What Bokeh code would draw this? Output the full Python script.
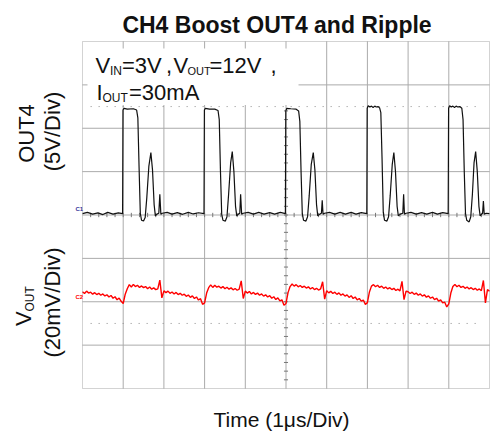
import numpy as np
from bokeh.plotting import figure
from bokeh.models import Label, BoxAnnotation, Range1d
from bokeh.embed import file_html
from bokeh.resources import INLINE

# ---------------- data ----------------
x_divisions = [1, 2, 3, 4, 5, 6, 7, 8, 9]          # us grid lines
y_divisions = [-3, -2, -1, 0, 1, 2, 3]              # div grid lines
ch1_scale_v = 5.0      # V / div
ch2_scale_mv = 20.0    # mV / div
ch1_ref_div = 0.0
ch2_ref_div = -2.0
cursor_divs = [2.5, -2.5]

out4_t = [0.00, 0.12, 0.25, 0.38, 0.50, 0.62, 0.75, 0.88, 0.985,
          0.995, 1.02, 1.10, 1.25, 1.33, 1.36, 1.39, 1.42, 1.45, 1.50, 1.54, 1.58, 1.63, 1.68, 1.72, 1.76, 1.79, 1.83, 1.875, 1.90, 1.925, 1.96,
          2.08, 2.20, 2.33, 2.46, 2.60, 2.72, 2.85, 2.985,
          2.995, 3.02, 3.12, 3.25, 3.33, 3.36, 3.39, 3.42, 3.45, 3.51, 3.55, 3.59, 3.64, 3.68, 3.72, 3.76, 3.79, 3.83, 3.865, 3.885, 3.91, 3.95,
          4.07, 4.20, 4.33, 4.46, 4.60, 4.72, 4.86, 4.985,
          4.995, 5.02, 5.12, 5.25, 5.31, 5.34, 5.37, 5.40, 5.43, 5.49, 5.53, 5.57, 5.62, 5.67, 5.71, 5.75, 5.78, 5.83, 5.87, 5.89, 5.91, 5.95,
          6.07, 6.20, 6.33, 6.46, 6.60, 6.72, 6.85, 6.985,
          6.995, 7.02, 7.06, 7.10, 7.14, 7.18, 7.22, 7.26, 7.30, 7.33, 7.36, 7.39, 7.42, 7.48, 7.52, 7.56, 7.61, 7.65, 7.69, 7.73, 7.76, 7.81, 7.87, 7.89, 7.91, 7.95,
          8.07, 8.20, 8.33, 8.46, 8.60, 8.72, 8.85, 8.985,
          8.995, 9.02, 9.06, 9.10, 9.14, 9.18, 9.22, 9.27, 9.32, 9.35, 9.38, 9.41, 9.44, 9.50, 9.54, 9.58, 9.62, 9.66, 9.70, 9.74, 9.77, 9.81, 9.83, 9.85, 9.87, 9.92, 10.0]
out4_v = [0.15, 0.30, 0.10, 0.25, 0.05, 0.30, 0.10, 0.25, 0.15,
          12.1, 12.3, 12.2, 12.25, 12.1, 11.2, 5.5, 0.2, -0.6, -0.7, -0.3, 2.0, 5.6, 7.2, 5.2, 1.2, -0.1, 0.1, 0.2, 2.4, 0.1, 0.2,
          0.30, 0.10, 0.28, 0.08, 0.30, 0.12, 0.26, 0.15,
          12.1, 12.3, 12.2, 12.2, 12.05, 11.0, 5.0, 0.1, -0.6, -0.7, -0.2, 2.4, 6.0, 7.3, 5.0, 1.0, -0.1, 0.1, 0.2, 2.4, 0.1, 0.2,
          0.30, 0.10, 0.30, 0.10, 0.28, 0.10, 0.30, 0.15,
          12.0, 12.3, 12.25, 12.2, 12.0, 10.8, 5.0, 0.2, -0.6, -0.7, -0.2, 2.2, 5.8, 7.2, 5.2, 1.2, -0.1, 0.1, 0.2, 1.7, 0.1, 0.2,
          0.30, 0.10, 0.30, 0.10, 0.30, 0.10, 0.28, 0.15,
          12.3, 12.6, 12.45, 12.55, 12.4, 12.55, 12.45, 12.5, 12.35, 11.8, 6.5, 0.3, -0.6, -0.7, -0.2, 2.2, 5.8, 7.2, 5.0, 1.0, -0.1, 0.1, 0.2, 2.4, 0.1, 0.2,
          0.30, 0.10, 0.28, 0.10, 0.30, 0.10, 0.28, 0.15,
          12.3, 12.6, 12.45, 12.55, 12.4, 12.55, 12.45, 12.5, 12.3, 11.0, 5.0, 0.2, -0.6, -0.8, -0.2, 2.4, 6.0, 7.3, 5.0, 1.0, -0.1, 0.1, 0.2, 1.6, 0.1, 0.2, 0.15]

ripple_t = [round(0.05 * i, 2) for i in range(201)]
ripple_mv = [4.6, 3.8, 4.9, 4.0, 4.4, 3.5, 4.2, 3.3, 3.9, 3.0, 3.6, 2.7, 3.2, 2.2, 2.9, 1.6, 2.3, 0.9, 1.7, 0.2,
             -0.8, 3.5, 6.0, 7.9, 6.8, 8.0, 7.0, 7.6, 6.6, 7.3, 6.5, 7.0, 6.0, 6.8, 5.8, 6.4, 5.6, 5.9, 10.0, 1.8,
             5.0, 4.2, 4.9, 3.9, 4.5, 3.6, 4.3, 3.3, 3.9, 3.0, 3.5, 2.5, 3.1, 2.0, 2.7, 1.5, 2.2, 0.8, 1.4, -1.2,
             -0.5, 4.0, 6.5, 7.8, 6.6, 7.6, 6.7, 7.2, 6.3, 7.0, 6.0, 6.7, 5.8, 6.4, 5.5, 6.1, 5.3, 5.8, 9.6, 1.5,
             4.9, 4.0, 4.7, 3.6, 4.3, 3.4, 4.0, 3.0, 3.6, 2.6, 3.2, 2.2, 2.8, 1.6, 2.3, 1.0, 1.8, 0.4, 0.9, -1.6,
             -0.8, 4.2, 7.0, 8.2, 7.2, 7.9, 6.9, 7.5, 6.6, 7.2, 6.3, 6.9, 5.9, 6.6, 5.6, 6.2, 5.4, 5.9, 9.2, 1.2,
             5.1, 4.1, 4.8, 3.8, 4.4, 3.4, 4.1, 3.0, 3.6, 2.6, 3.2, 2.0, 2.8, 1.5, 2.2, 0.9, 1.5, 0.3, 0.8, -1.2,
             -0.4, 4.5, 7.2, 7.9, 6.9, 7.6, 6.6, 7.2, 6.2, 6.8, 5.9, 6.5, 5.6, 6.2, 5.2, 5.8, 5.0, 9.4, 1.0, 4.9,
             4.6, 3.8, 4.4, 3.4, 4.0, 3.0, 3.6, 2.6, 3.2, 2.1, 2.7, 1.6, 2.2, 1.0, 1.6, 0.3, 0.9, -0.5, -0.2, -2.4,
             -1.0, 4.0, 7.0, 8.0, 6.9, 7.6, 6.6, 7.1, 6.2, 6.8, 5.9, 6.5, 5.6, 6.2, 5.3, 5.9, 5.1, 9.8, -0.5, 5.6, 4.8]

title_text = "CH4 Boost OUT4 and Ripple"
xlabel_text = "Time (1\u03bcs/Div)"

FONT = "Liberation Sans"

# ---------------- layout (pixels) ----------------
W, H = 490, 431
PX_L, PX_R, PX_T, PX_B = 82, 489, 41, 388      # scope screen rectangle
T0, T1, D0, D1 = 0.0, 10.0, -4.0, 4.0           # scope data extents
sx = (PX_R - PX_L) / (T1 - T0)
sy = (PX_B - PX_T) / (D1 - D0)
x_range = Range1d(T0 - PX_L / sx, T1 + (W - PX_R) / sx)
y_range = Range1d(D0 - (H - PX_B) / sy, D1 + PX_T / sy)


def px_x(px):
    return T0 + (px - PX_L) / sx


def px_y(py):
    return D1 - (py - PX_T) / sy


p = figure(width=W, height=H, x_range=x_range, y_range=y_range,
           x_axis_type=None, y_axis_type=None, toolbar_location=None,
           output_backend="svg", title=None,
           min_border_left=0, min_border_right=0, min_border_top=0, min_border_bottom=0)
p.outline_line_color = None
p.background_fill_color = "white"
p.border_fill_color = "white"

grid_color = "#ababab"
p.segment(x0=x_divisions, y0=D0, x1=x_divisions, y1=D1, line_color=grid_color, line_width=1)
p.segment(x0=T0, y0=y_divisions, x1=T1, y1=y_divisions, line_color=grid_color, line_width=1)
p.segment(x0=T0 + 0.2, y0=cursor_divs, x1=T1 - 0.2, y1=cursor_divs,
          line_color="#8c8c8c", line_width=1, line_dash="1 7")

# center graticule ticks
xt = np.arange(0.2, 10.0, 0.2)
p.segment(x0=xt, y0=-0.05, x1=xt, y1=0.05, line_color="#777777", line_width=1)
yt = np.arange(-3.8, 4.0, 0.2)
p.segment(x0=5 - 0.05, y0=yt, x1=5 + 0.05, y1=yt, line_color="#777777", line_width=1)

# traces
p.line(out4_t, [v / ch1_scale_v + ch1_ref_div for v in out4_v], line_color="#111111", line_width=1.2)
p.line(ripple_t, [m / ch2_scale_mv + ch2_ref_div for m in ripple_mv], line_color="#ff0000", line_width=1.4)

# scope frame
p.add_layout(BoxAnnotation(left=T0, right=T1, bottom=D0, top=D1, fill_alpha=0.0,
                           line_color="#6e6e6e", line_width=1))

# condition box
p.add_layout(BoxAnnotation(left=px_x(87), right=px_x(298), top=px_y(48), bottom=px_y(104.5),
                           fill_color="white", fill_alpha=1.0, line_color=None))

BASE_FIX = 0.32   # rendered alphabetic baseline sits ~0.32 em lower than requested


def lab(px, py, text, size, angle=0.0, align="left", style="normal", color="#111111"):
    if angle == 0.0:
        py = py - BASE_FIX * size
    else:
        px = px - BASE_FIX * size
    p.add_layout(Label(x=px_x(px), y=px_y(py), text=text, text_font=FONT, text_font_size=f"{size}px",
                       text_font_style=style, text_color=color, angle=angle,
                       text_align=align, text_baseline="alphabetic"))


# legend texts (positions in screen pixels)
lab(95, 71.7, "V", 22)
lab(109.5, 74.0, "IN", 12)
lab(121.5, 71.7, "=3V", 22)
lab(165.5, 71.7, ",", 22)
lab(173.0, 71.7, "V", 22)
lab(187.0, 74.0, "OUT", 11)
lab(209.0, 71.7, "=12V", 22)
lab(270.0, 71.7, ",", 22)
lab(96, 99.3, "I", 22)
lab(102, 101.5, "OUT", 12)
lab(128.5, 99.3, "=30mA", 22)

# title and x label
lab(276.5, 31.5, title_text, 23, align="center", style="bold")
lab(281, 426, xlabel_text, 21, align="center")

# y labels (rotated)
half_pi = np.pi / 2
lab(33, 133, "OUT4", 22, angle=half_pi, align="center")
lab(59, 131, "(5V/Div)", 22, angle=half_pi, align="center")
lab(30, 325.5, "V", 22, angle=half_pi)
lab(33.5, 311, "OUT", 12, angle=half_pi)
lab(59, 302, "(20mV/Div)", 22, angle=half_pi, align="center")

# channel markers
lab(75, 210, "C1", 6, style="bold", color="#333399")
lab(75, 298, "C2", 6, style="bold", color="#ff0000")

open("out.html", "w").write(file_html(p, INLINE))
